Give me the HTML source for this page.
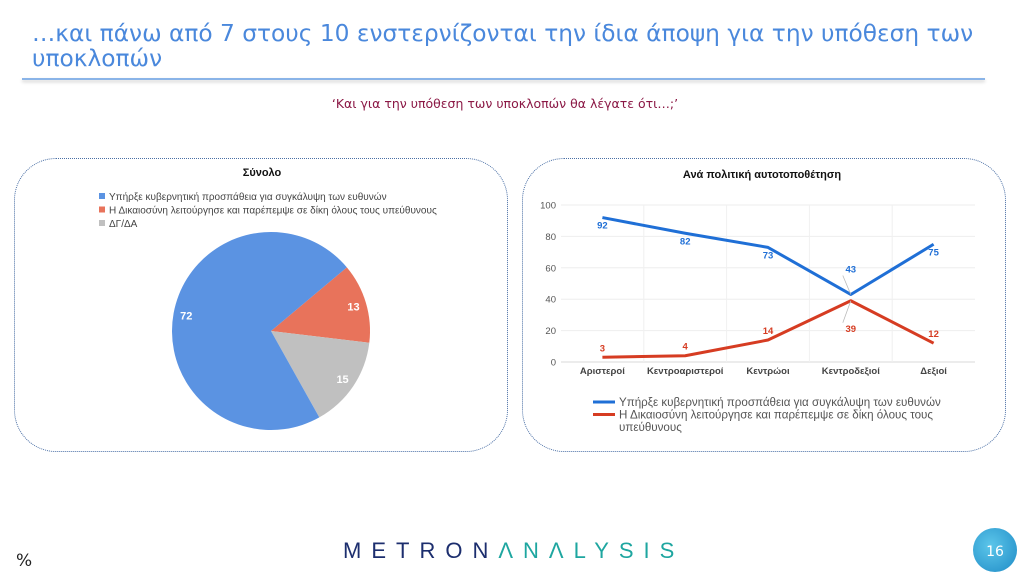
<!DOCTYPE html>
<html><head><meta charset="utf-8">
<style>
body{margin:0;width:1024px;height:576px;background:#fff;overflow:hidden;position:relative;font-family:"DejaVu Sans","Liberation Sans",sans-serif}
.abs{position:absolute}
</style></head><body>
<div class="abs" style="left:32px;top:21px;font-size:23.3px;line-height:25px;color:#4a88dc;white-space:nowrap">…και πάνω από 7 στους 10 ενστερνίζονται την ίδια άποψη για την υπόθεση των<br>υποκλοπών</div>
<div class="abs" style="left:22px;top:78px;width:963px;height:2px;background:#8ab4e8;box-shadow:0 2px 3px #ccc"></div>
<div class="abs" style="left:0;width:1010px;top:96px;text-align:center;font-size:12.5px;color:#8b1845">‘Και για την υπόθεση των υποκλοπών θα λέγατε ότι…;’</div>

<div class="abs" style="left:14px;top:158px;width:492px;height:292px;border:1.5px dotted #4a6fa5;border-radius:42px"></div>
<div class="abs" style="left:522px;top:158px;width:482px;height:292px;border:1.5px dotted #4a6fa5;border-radius:42px"></div>

<svg class="abs" style="left:0;top:0" width="1024" height="576" font-family="Liberation Sans, DejaVu Sans, sans-serif">
 <text x="262" y="176" text-anchor="middle" font-size="11" font-weight="bold" fill="#111">Σύνολο</text>
 <g id="pieLegend" font-size="10" fill="#444"></g>
 <g id="pie"></g>
 <text x="762" y="178" text-anchor="middle" font-size="11" font-weight="bold" fill="#111">Ανά πολιτική αυτοτοποθέτηση</text>
 <g id="line"></g>
</svg>

<div class="abs" style="left:16px;top:551px;font-size:17px;color:#222">%</div>
<div class="abs" style="left:343px;top:538px;font-size:22px;letter-spacing:10px;font-family:'Liberation Sans',sans-serif;white-space:nowrap"><span style="color:#1c2e6e">METRON</span><span style="color:#1ea6a0">ΛNΛLYSIS</span></div>
<div class="abs" style="left:973px;top:528px;width:44px;height:44px;border-radius:50%;background:radial-gradient(circle at 40% 40%,#5cc6ea,#1f8bc6);color:#fff;font-size:14px;text-align:center;line-height:48px">16</div>

<script>
const pieLabels=["Υπήρξε κυβερνητική προσπάθεια για συγκάλυψη των ευθυνών","Η Δικαιοσύνη λειτούργησε και παρέπεμψε σε δίκη όλους τους υπεύθυνους","ΔΓ/ΔΑ"];
const pieValues=[72,13,15];
const pieColors=["#5b93e2","#e8735b","#c0c0c0"];
const categories=["Αριστεροί","Κεντροαριστεροί","Κεντρώοι","Κεντροδεξιοί","Δεξιοί"];
const seriesCover=[92,82,73,43,75];
const seriesJustice=[3,4,14,39,12];
const yTicks=[0,20,40,60,80,100];
const seriesNames=["Υπήρξε κυβερνητική προσπάθεια για συγκάλυψη των ευθυνών","Η Δικαιοσύνη λειτούργησε και παρέπεμψε σε δίκη όλους τους","υπεύθυνους"];
const NS="http://www.w3.org/2000/svg";
function mk(t,a,p){const e=document.createElementNS(NS,t);for(const k in a)e.setAttribute(k,a[k]);p.appendChild(e);return e;}

const lg=document.getElementById('pieLegend');
pieLabels.forEach((l,i)=>{
 const r=mk('rect',{x:99,y:193+i*13.5,width:6,height:6,fill:pieColors[i]},lg);
 
 
 const t=mk('text',{x:109,y:200+i*13.5},lg);t.textContent=l;
 
 
});
const pg=document.getElementById('pie');
const cx=271,cy=331,R=99;
const total=pieValues.reduce((a,b)=>a+b,0);
const order=[1,2,0];
let ang=50;
function pt(a,r){const rad=(a-90)*Math.PI/180;return [cx+r*Math.cos(rad),cy+r*Math.sin(rad)];}
order.forEach(i=>{
 const sweep=pieValues[i]/total*360;
 const a0=ang,a1=ang+sweep;
 const p0=pt(a0,R),p1=pt(a1,R);
 const path=mk('path',{d:`M${cx},${cy}L${p0[0]},${p0[1]}A${R},${R} 0 ${sweep>180?1:0} 1 ${p1[0]},${p1[1]}Z`,fill:pieColors[i]},pg);
 
 
 const lp=pt((a0+a1)/2,R*0.87);
 const t=mk('text',{x:lp[0],y:lp[1]+4,'text-anchor':'middle','font-size':11,'font-weight':'bold',fill:'#fff'},pg);
 t.textContent=pieValues[i];
 
 
 ang=a1;
});

const g=document.getElementById('line');
const pl=561,pr=975,pt0=205,pb=362;
const band=(pr-pl)/categories.length;
const X=i=>pl+band*(i+0.5);
const Y=v=>pb-(v/100)*(pb-pt0);
yTicks.forEach(v=>{
 const l=mk('line',{x1:pl,x2:pr,y1:Y(v),y2:Y(v),stroke:v===0?'#d8d8d8':'#eeeeee','stroke-width':1},g);
 
 
 const t=mk('text',{x:pl-5,y:Y(v)+3.5,'text-anchor':'end','font-size':9.5,fill:'#555'},g);t.textContent=v;
 
 
});
categories.forEach((c,i)=>{
 if(i>0){const l=mk('line',{x1:pl+band*i,x2:pl+band*i,y1:pt0,y2:pb,stroke:'#f0f0f0'},g);
 
 }
 const t=mk('text',{x:X(i),y:pb+12,'text-anchor':'middle','font-size':9.5,'font-weight':'bold',fill:'#444'},g);t.textContent=c;
 
 
});
function series(vals,color,name,offs){
 const d=vals.map((v,i)=>(i?'L':'M')+X(i)+','+Y(v)).join('');
 const p=mk('path',{d,fill:'none',stroke:color,'stroke-width':3,'stroke-linejoin':'round'},g);
 
 
 vals.forEach((v,i)=>{
  const ty=Y(v)+offs[i];
  if(Math.abs(offs[i])>18){
   const ll=mk('line',{x1:X(i),y1:Y(v),x2:X(i)-8,y2:ty+(offs[i]>0?-9:3),stroke:'#bbb','stroke-width':0.8},g);
   
   
  }
  const t=mk('text',{x:X(i),y:ty,'text-anchor':'middle','font-size':9.5,'font-weight':'bold',fill:color},g);t.textContent=v;
  
  
 });
}
series(seriesCover,'#1f6fd6','line-cover-up',[11,11,11,-22,11]);
series(seriesJustice,'#d63c22','line-justice',[-6,-6,-6,31,-6]);
[['#1f6fd6',0],['#d63c22',1]].forEach(([c,i])=>{
 const l=mk('line',{x1:593,x2:615,y1:402+i*12.5,y2:402+i*12.5,stroke:c,'stroke-width':3},g);
 
 
});
seriesNames.forEach((n,i)=>{
 const t=mk('text',{x:619,y:406+i*12.5,'font-size':11.6,fill:'#555'},g);t.textContent=n;
 
 
});
</script>
</body></html>
